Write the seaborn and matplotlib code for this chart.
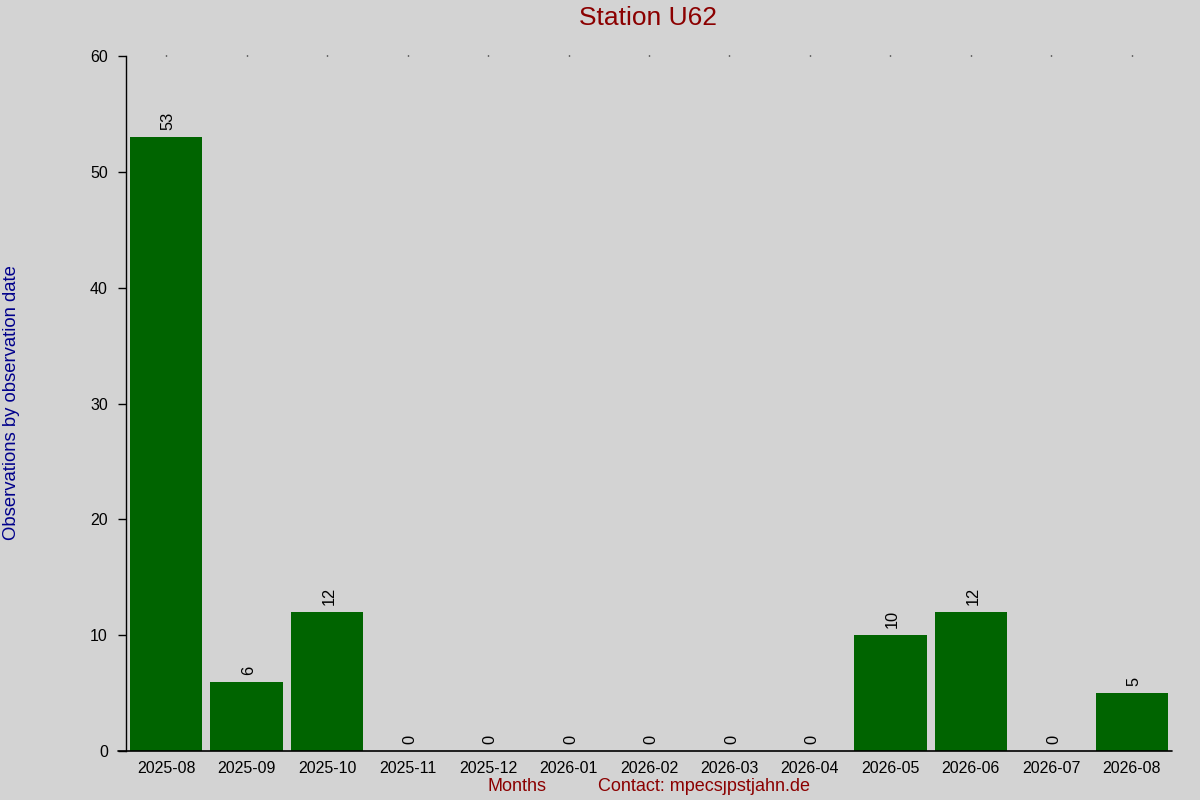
import pandas as pd
import seaborn as sns
import matplotlib.pyplot as plt

months = ['2025-08', '2025-09', '2025-10', '2025-11', '2025-12', '2026-01', '2026-02',
          '2026-03', '2026-04', '2026-05', '2026-06', '2026-07', '2026-08']
counts = [53, 6, 12, 0, 0, 0, 0, 0, 0, 10, 12, 0, 5]
yticks = [0, 10, 20, 30, 40, 50, 60]

bg = '#d3d3d3'
bar_color = '#006400'

sns.set_theme(style='white')
plt.rcParams['font.family'] = ['Liberation Sans', 'DejaVu Sans']

df = pd.DataFrame({'month': months, 'count': counts})

fig = plt.figure(figsize=(12, 8), dpi=100, facecolor=bg)
ax = fig.add_axes([0.105, 0.06125, 0.8717, 0.86875])
ax.set_facecolor(bg)

sns.barplot(data=df, x='month', y='count', color=bar_color, width=0.9,
            saturation=1, linewidth=0, ax=ax)

# value labels above bars
for i, v in enumerate(counts):
    ax.annotate(str(v), (i, v), xytext=(1.5, 5), textcoords='offset points',
                rotation=90, ha='center', va='bottom', fontsize=11.8, color='black')

ax.set_xlim(-0.5, 12.5)
ax.set_ylim(0, 60)
ax.set_yticks(yticks)

for s in ['top', 'right', 'bottom']:
    ax.spines[s].set_visible(False)
ax.spines['left'].set_color('black')
ax.spines['left'].set_linewidth(1)
ax.axhline(0, xmin=-0.0077, xmax=1, color='black', lw=1.2, clip_on=False)

ax.tick_params(axis='y', left=True, length=5.8, width=1, color='black',
               labelsize=11.5, labelcolor='black', pad=7.2)
ax.tick_params(axis='x', bottom=False, top=True, length=1, width=1, color='black',
               labelsize=11.5, labelcolor='black', pad=6)
ax.set_xlabel('')
ax.set_ylabel('')

fig.text(0.54, 0.977, 'Station U62', ha='center', va='center', fontsize=19, color='#8b0000')
fig.text(0.01, 0.497, 'Observations by observation date', rotation=90,
         ha='center', va='center', fontsize=13.3, color='#00008b')
fig.text(0.431, 0.017, 'Months', ha='center', va='center', fontsize=13, color='#8b0000')
fig.text(0.5865, 0.017, 'Contact: mpecs\u0237pstjahn.de', ha='center', va='center',
         fontsize=13, color='#8b0000')

fig.savefig('out.png', dpi=100, facecolor=bg)
